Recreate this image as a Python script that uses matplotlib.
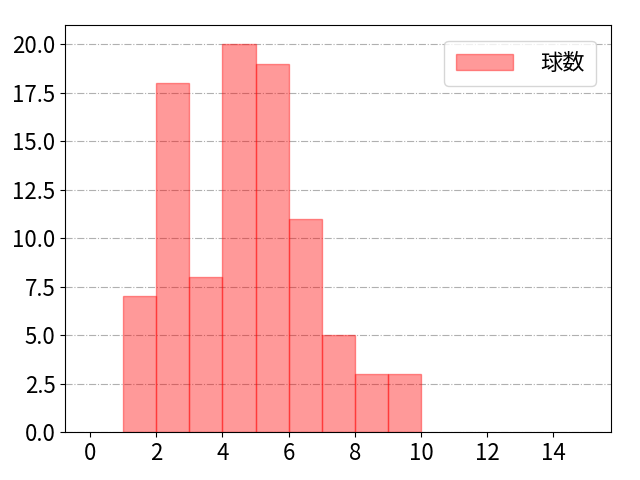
import matplotlib
matplotlib.use('Agg')
import matplotlib.pyplot as plt

plt.rcParams['font.family'] = ['Noto Sans CJK JP', 'DejaVu Sans']

# 区間の左端と件数
bin_left = [1, 2, 3, 4, 5, 6, 7, 8, 9]
counts = [7, 18, 8, 20, 19, 11, 5, 3, 3]
label = '球数'

fig, ax = plt.subplots(figsize=(6.4, 4.8), dpi=100)
ax.bar(bin_left, counts, width=1, align='edge', color='red', alpha=0.4,
       edgecolor='red', label=label)
ax.set_xlim(-0.75, 15.75)
ax.set_ylim(0, 21)
ax.set_xticks(range(0, 16, 2))
ax.yaxis.grid(True, linestyle='-.', color='#b0b0b0', linewidth=0.8)
ax.set_axisbelow(True)
ax.tick_params(labelsize=16)
ax.legend(loc='upper right', fontsize=16, borderpad=0.5,
          handlelength=2.6, handletextpad=1.2, borderaxespad=0.7)
fig.subplots_adjust(left=0.102, right=0.955, top=0.948, bottom=0.1)
fig.savefig('out.png')
